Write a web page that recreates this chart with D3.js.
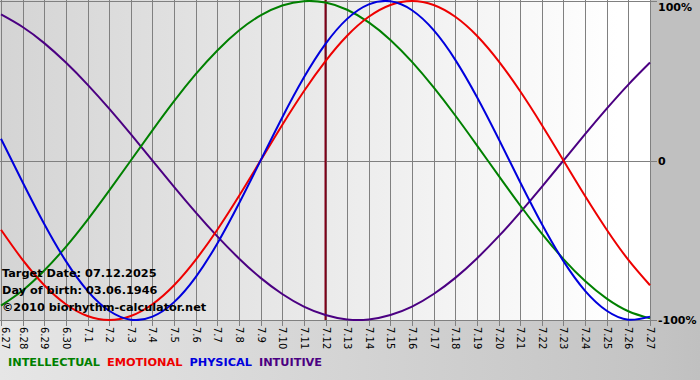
<!DOCTYPE html>
<html>
<head>
<meta charset="utf-8">
<script src="https://cdn.jsdelivr.net/npm/d3@7"></script>
<style>
html,body{margin:0;padding:0;background:#d0d0d0;}
svg{display:block;}
text{font-family:"DejaVu Sans",Verdana,sans-serif;font-weight:bold;}
text.xl{font-weight:normal;}
</style>
</head>
<body>
<svg id="chart" width="700" height="380"></svg>
<script>
// Day labels (x axis)
const days = ["6.27","6.28","6.29","6.30","7.1","7.2","7.3","7.4","7.5","7.6","7.7","7.8","7.9","7.10","7.11","7.12","7.13","7.14","7.15","7.16","7.17","7.18","7.19","7.20","7.21","7.22","7.23","7.24","7.25","7.26","7.27"];
// Series values (fraction of 100%), one per day
const intellectual = [-0.910,-0.815,-0.690,-0.541,-0.372,-0.189,0,0.189,0.372,0.541,0.690,0.815,0.910,0.972,0.999,0.990,0.945,0.866,0.756,0.618,0.458,0.282,0.095,-0.095,-0.282,-0.458,-0.618,-0.756,-0.866,-0.945,-0.990];
const emotional = [-0.434,-0.623,-0.782,-0.901,-0.975,-1.000,-0.975,-0.901,-0.782,-0.623,-0.434,-0.223,0,0.223,0.434,0.623,0.782,0.901,0.975,1.000,0.975,0.901,0.782,0.623,0.434,0.223,0,-0.223,-0.434,-0.623,-0.782];
const physical = [0.136,-0.136,-0.398,-0.631,-0.817,-0.942,-0.998,-0.979,-0.888,-0.731,-0.520,-0.270,0,0.270,0.520,0.731,0.888,0.979,0.998,0.942,0.817,0.631,0.398,0.136,-0.136,-0.398,-0.631,-0.817,-0.942,-0.998,-0.979];
const intuitive = [0.916,0.837,0.736,0.614,0.476,0.325,0.165,0,-0.165,-0.325,-0.476,-0.614,-0.736,-0.837,-0.916,-0.969,-0.997,-0.997,-0.969,-0.916,-0.837,-0.736,-0.614,-0.476,-0.325,-0.165,0,0.165,0.325,0.476,0.614];
const yTicks = [1, 0, -1];
const yTickLabels = ["100%", "0", "-100%"];
const targetDay = "7.12";
const infoLines = ["Target Date: 07.12.2025", "Day of birth: 03.06.1946", "\u00a92010 biorhythm-calculator.net"];
const legendNames = ["INTELLECTUAL", "EMOTIONAL", "PHYSICAL", "INTUITIVE"];

const series = [
  {name:"INTUITIVE", values:intuitive, color:"#4b0082"},
  {name:"INTELLECTUAL", values:intellectual, color:"#008000"},
  {name:"EMOTIONAL", values:emotional, color:"#ee0000"},
  {name:"PHYSICAL", values:physical, color:"#0000dd"}
];
const legendColors = {"INTELLECTUAL":"#008000","EMOTIONAL":"#ee0000","PHYSICAL":"#0000dd","INTUITIVE":"#4b0082"};

const svg = d3.select("#chart");
const W = 700, H = 380;
const pL = 1, pR = 650, pT = 0, pB = 320;

const defs = svg.append("defs");
const bgGrad = defs.append("linearGradient").attr("id","bg").attr("x1","0").attr("x2","1").attr("y1","0").attr("y2","0");
bgGrad.append("stop").attr("offset","0").attr("stop-color","#e6e6e6");
bgGrad.append("stop").attr("offset","0.93").attr("stop-color","#c4c4c4");
bgGrad.append("stop").attr("offset","1").attr("stop-color","#c0c0c0");
const plotGrad = defs.append("linearGradient").attr("id","plotbg").attr("x1","0").attr("x2","1").attr("y1","0").attr("y2","0");
plotGrad.append("stop").attr("offset","0").attr("stop-color","#d4d4d4");
plotGrad.append("stop").attr("offset","0.95").attr("stop-color","#ffffff");
defs.append("clipPath").attr("id","clip").append("rect").attr("x",0).attr("y",pT).attr("width",pR+1).attr("height",pB-pT+1);

svg.append("rect").attr("width",W).attr("height",H).attr("fill","url(#bg)");
svg.append("rect").attr("x",0).attr("y",0).attr("width",W).attr("height",pB+1).attr("fill","#c0c0c0");
svg.append("rect").attr("x",0).attr("y",pT).attr("width",pR).attr("height",pB-pT).attr("fill","url(#plotbg)");

const x = d3.scalePoint().domain(days).range([pL, pR]);
const y = d3.scaleLinear().domain([-1, 1]).range([pB, pT + 1]);

// vertical grid + ticks
const grid = svg.append("g");
grid.selectAll("line.v").data(days).join("line")
  .attr("x1", d => Math.round(x(d)) + 0.5).attr("x2", d => Math.round(x(d)) + 0.5)
  .attr("y1", pT).attr("y2", pB + 6)
  .attr("stroke", "#808080").attr("stroke-width", 1);
// horizontal lines
grid.selectAll("line.h").data(yTicks).join("line")
  .attr("x1", 0).attr("x2", pR + 7)
  .attr("y1", d => Math.round(y(d)) + 0.5).attr("y2", d => Math.round(y(d)) + 0.5)
  .attr("stroke", "#808080").attr("stroke-width", 1);

// x labels rotated
svg.append("g").selectAll("text").data(days).join("text")
  .attr("class", "xl")
  .attr("transform", d => `translate(${Math.max(Math.round(x(d))+0.5, 5)},${pB + 7}) rotate(90)`)
  .attr("dy", "0.35em")
  .attr("font-size", 10)
  .attr("fill", "#000")
  .text(d => d);

// y labels
svg.append("g").selectAll("text").data(yTicks).join("text")
  .attr("x", pR + 8)
  .attr("y", d => Math.min(Math.max(y(d), 7), pB))
  .attr("dy", "0.4em")
  .attr("font-size", 11)
  .attr("fill", "#000")
  .text((d,i) => yTickLabels[i]);

// target line
svg.append("line")
  .attr("x1", x(targetDay)).attr("x2", x(targetDay))
  .attr("y1", pT).attr("y2", pB)
  .attr("stroke", "#800018").attr("stroke-width", 2);

// curves
const line = d3.line().x((d,i) => x(days[i])).y(d => y(d)).curve(d3.curveNatural);
svg.append("g").attr("clip-path","url(#clip)").selectAll("path").data(series).join("path")
  .attr("d", d => line(d.values))
  .attr("fill", "none")
  .attr("stroke", d => d.color)
  .attr("stroke-width", 2);

// info text
svg.append("g").selectAll("text").data(infoLines).join("text")
  .attr("x", 2).attr("y", (d,i) => 277 + i*17)
  .attr("font-size", 11.3)
  .attr("fill", "#000")
  .text(d => d);

// legend
const lg = svg.append("g").attr("transform", "translate(8,366)");
let lx = 0;
legendNames.forEach(n => {
  const t = lg.append("text").attr("x", lx).attr("y", 0).attr("font-size", 11.3)
    .attr("fill", legendColors[n]).text(n);
  lx += t.node().getComputedTextLength() + 7;
});
</script>
</body>
</html>
